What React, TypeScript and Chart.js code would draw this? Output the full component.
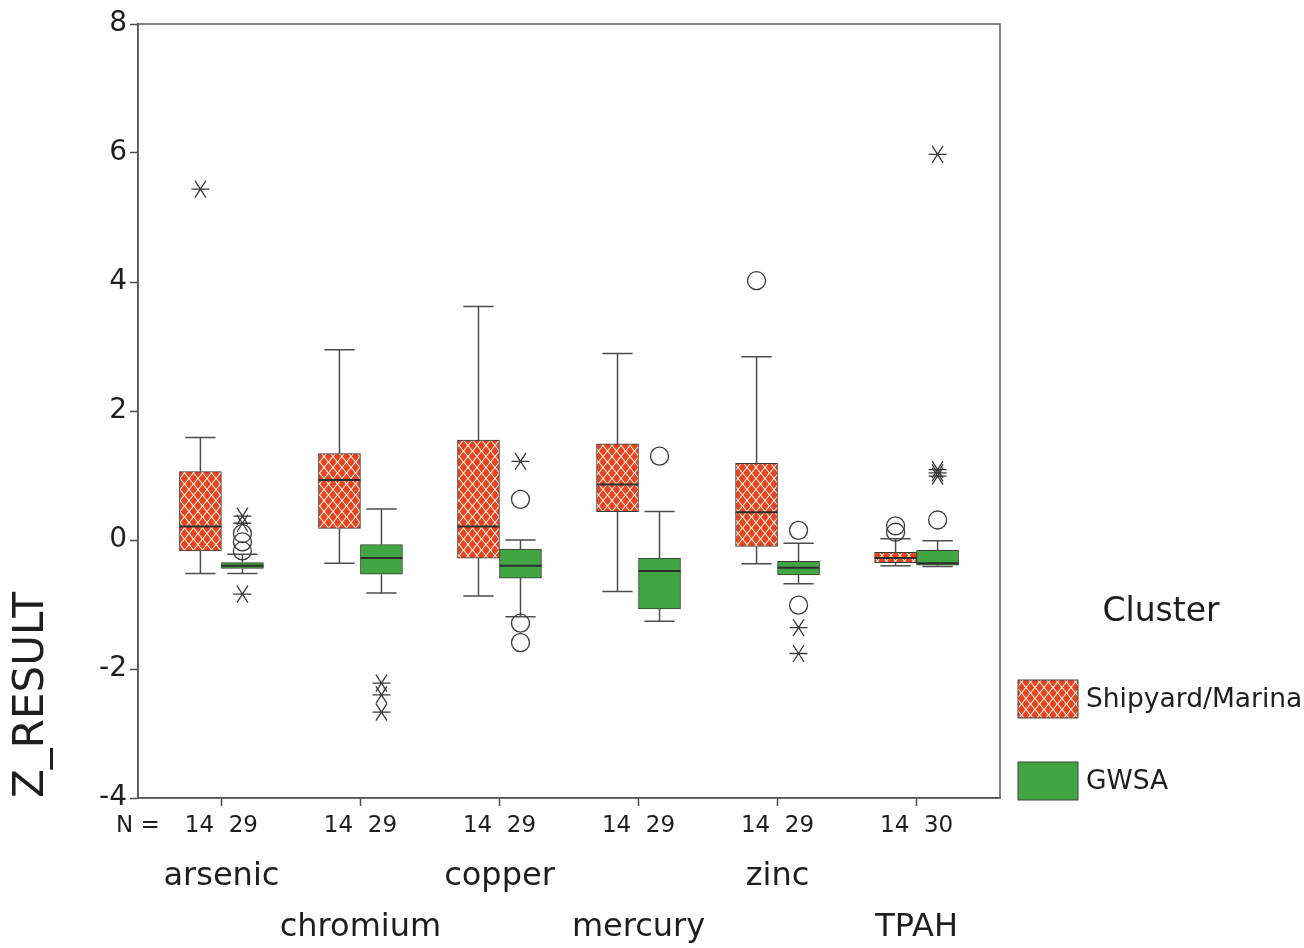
import { useEffect, useRef } from 'react';
import { Chart, registerables } from 'chart.js';

Chart.register(...registerables);

// ---------- data ----------
const categories = ['arsenic', 'chromium', 'copper', 'mercury', 'zinc', 'TPAH'];
const nShipyard = [14, 14, 14, 14, 14, 14];
const nGwsa = [29, 29, 29, 29, 29, 30];
const clusterNames = ['Shipyard/Marina', 'GWSA'];
const yTickValues = [-4, -2, 0, 2, 4, 6, 8];

const shipLow = [-0.52, -0.36, -0.87, -0.8, -0.37, -0.4];
const shipQ1 = [-0.17, 0.18, -0.28, 0.44, -0.1, -0.35];
const shipMedian = [0.21, 0.93, 0.21, 0.86, 0.43, -0.28];
const shipQ3 = [1.06, 1.34, 1.55, 1.49, 1.19, -0.19];
const shipHigh = [1.59, 2.95, 3.62, 2.89, 2.84, 0.02];
const shipCircles = [[], [], [], [], [4.02], [0.22, 0.12]];
const shipStars = [[5.44], [], [], [], [], []];

const gwsaLow = [-0.52, -0.82, -1.19, -1.26, -0.68, -0.41];
const gwsaQ1 = [-0.44, -0.53, -0.59, -1.07, -0.54, -0.39];
const gwsaMedian = [-0.4, -0.28, -0.4, -0.48, -0.43, -0.36];
const gwsaQ3 = [-0.35, -0.07, -0.14, -0.28, -0.33, -0.16];
const gwsaHigh = [-0.22, 0.48, 0.0, 0.44, -0.05, -0.01];
const gwsaCircles = [[0.1, -0.03, -0.17], [], [0.63, -1.29, -1.59], [1.3], [0.15, -1.01], [0.31]];
const gwsaStars = [[0.37, 0.26, -0.84], [-2.22, -2.4, -2.67], [1.22], [], [-1.36, -1.76], [5.98, 1.09, 1.04, 0.99]];

// ---------- styles ----------
const FONT = "'DejaVu Sans', 'Liberation Sans', sans-serif";
const TEXT = '#1e1e1e';
const LINE = '#4d4d4d';
const RED = '#e8431f';
const CREAM = '#fdf5e6';
const GREEN = '#41a541';

function makeLattice(): CanvasPattern | string {
  const c = document.createElement('canvas');
  c.width = 9;
  c.height = 11;
  const g = c.getContext('2d');
  if (!g) return RED;
  g.fillStyle = CREAM;
  g.fillRect(0, 0, 9, 11);
  g.fillStyle = RED;
  const dia = (cx: number, cy: number) => {
    g.beginPath();
    g.moveTo(cx, cy - 4.7);
    g.lineTo(cx + 3.8, cy);
    g.lineTo(cx, cy + 4.7);
    g.lineTo(cx - 3.8, cy);
    g.closePath();
    g.fill();
  };
  dia(4.5, 5.5);
  dia(0, 0);
  dia(9, 0);
  dia(0, 11);
  dia(9, 11);
  const p = g.createPattern(c, 'repeat');
  return p || RED;
}

function drawStar(ctx: CanvasRenderingContext2D, x: number, y: number) {
  ctx.beginPath();
  ctx.moveTo(x - 9, y);
  ctx.lineTo(x + 9, y);
  ctx.moveTo(x - 5.5, y - 8.5);
  ctx.lineTo(x + 5.5, y + 8.5);
  ctx.moveTo(x + 5.5, y - 8.5);
  ctx.lineTo(x - 5.5, y + 8.5);
  ctx.stroke();
}

function makeBoxPlugin(pattern: CanvasPattern | string) {
  return {
    id: 'boxplotParts',
    afterDatasetsDraw(chart: any) {
      const { ctx } = chart;
      const y = chart.scales.y;
      const groups = [
        { low: shipLow, med: shipMedian, high: shipHigh, circles: shipCircles, stars: shipStars },
        { low: gwsaLow, med: gwsaMedian, high: gwsaHigh, circles: gwsaCircles, stars: gwsaStars },
      ];
      ctx.save();
      groups.forEach((g, d) => {
        const meta = chart.getDatasetMeta(d);
        meta.data.forEach((bar: any, i: number) => {
          const x = bar.x;
          const w = bar.width;
          const top = Math.min(bar.y, bar.base);
          const bottom = Math.max(bar.y, bar.base);
          const hi = y.getPixelForValue(g.high[i]);
          const lo = y.getPixelForValue(g.low[i]);
          const cap = w * 0.36;
          ctx.strokeStyle = LINE;
          ctx.lineWidth = 1.5;
          ctx.beginPath();
          ctx.moveTo(x, top);
          ctx.lineTo(x, hi);
          ctx.moveTo(x - cap, hi);
          ctx.lineTo(x + cap, hi);
          ctx.moveTo(x, bottom);
          ctx.lineTo(x, lo);
          ctx.moveTo(x - cap, lo);
          ctx.lineTo(x + cap, lo);
          ctx.stroke();
          const m = y.getPixelForValue(g.med[i]);
          ctx.strokeStyle = '#2d2d2d';
          ctx.lineWidth = 2;
          ctx.beginPath();
          ctx.moveTo(x - w / 2, m);
          ctx.lineTo(x + w / 2, m);
          ctx.stroke();
          ctx.strokeStyle = '#3a3a3a';
          ctx.lineWidth = 1.3;
          g.circles[i].forEach((v: number) => {
            ctx.beginPath();
            ctx.arc(x, y.getPixelForValue(v), 9, 0, Math.PI * 2);
            ctx.stroke();
          });
          g.stars[i].forEach((v: number) => drawStar(ctx, x, y.getPixelForValue(v)));
        });
      });
      ctx.restore();
    },
    afterDraw(chart: any) {
      const { ctx, chartArea } = chart;
      ctx.save();
      // frame
      ctx.strokeStyle = '#5a5a5a';
      ctx.lineWidth = 1.5;
      ctx.strokeRect(chartArea.left, chartArea.top, chartArea.right - chartArea.left, chartArea.bottom - chartArea.top);
      // legend
      const lx = chartArea.right + 18;
      ctx.fillStyle = TEXT;
      ctx.font = `33px ${FONT}`;
      ctx.textAlign = 'center';
      ctx.textBaseline = 'middle';
      ctx.fillText('Cluster', 1161, 612);
      const fills = [pattern, GREEN];
      const rows = [680, 762];
      clusterNames.forEach((name, k) => {
        ctx.fillStyle = fills[k];
        ctx.fillRect(lx, rows[k], 60, 38);
        ctx.strokeStyle = '#444';
        ctx.lineWidth = 1;
        ctx.strokeRect(lx, rows[k], 60, 38);
        ctx.fillStyle = TEXT;
        ctx.font = `26.5px ${FONT}`;
        ctx.textAlign = 'left';
        ctx.fillText(name, lx + 68, rows[k] + 20);
      });
      ctx.restore();
    },
  };
}

export default function App() {
  const ref = useRef<HTMLCanvasElement | null>(null);

  useEffect(() => {
    if (!ref.current) return;
    const pattern = makeLattice();
    const chart = new Chart(ref.current, {
      type: 'bar',
      data: {
        datasets: [
          {
            label: clusterNames[0],
            data: categories.map((_, i) => ({ x: i, y: [shipQ1[i], shipQ3[i]] })) as any,
            backgroundColor: pattern as any,
            borderColor: '#3a3a3a',
            borderWidth: 1,
            borderSkipped: false,
            barThickness: 42,
          },
          {
            label: clusterNames[1],
            data: categories.map((_, i) => ({ x: i, y: [gwsaQ1[i], gwsaQ3[i]] })) as any,
            backgroundColor: GREEN,
            borderColor: '#3a3a3a',
            borderWidth: 1,
            borderSkipped: false,
            barThickness: 42,
          },
        ],
      },
      options: {
        responsive: false,
        animation: false,
        events: [],
        devicePixelRatio: 1,
        layout: { padding: { top: 24, right: 304, bottom: 0, left: 0 } },
        plugins: { legend: { display: false }, tooltip: { enabled: false } },
        scales: {
          x: {
            type: 'linear',
            position: 'bottom',
            offset: false,
            weight: 0,
            min: -0.6,
            max: 5.6,
            afterBuildTicks: (s: any) => {
              s.ticks = [s.min, ...categories.map((_, i) => i)].map((v) => ({ value: v }));
            },
            afterFit: (s: any) => {
              s.height = 42;
            },
            ticks: {
              autoSkip: false,
              maxRotation: 0,
              padding: 6,
              color: TEXT,
              font: { family: FONT, size: 23 },
              callback: (v: any) => (v < 0 ? 'N =' : `${nShipyard[v]}  ${nGwsa[v]}`),
            },
            grid: {
              offset: false,
              drawOnChartArea: false,
              drawTicks: true,
              tickLength: 8,
              tickWidth: 1.5,
              tickColor: (c: any) => (c.tick && c.tick.value < 0 ? 'rgba(0,0,0,0)' : LINE),
            },
            border: { display: true, color: LINE, width: 1.5 },
          },
          x2: {
            type: 'linear',
            position: 'bottom',
            offset: false,
            weight: 1,
            min: -0.6,
            max: 5.6,
            afterBuildTicks: (s: any) => {
              s.ticks = categories.map((_, i) => ({ value: i }));
            },
            afterFit: (s: any) => {
              s.height = 108;
            },
            ticks: {
              autoSkip: false,
              maxRotation: 0,
              padding: 11,
              color: TEXT,
              font: { family: FONT, size: 32, lineHeight: 1.6 },
              callback: (v: any) => (v % 2 === 0 ? [categories[v]] : ['', categories[v]]),
            },
            grid: { display: false, drawTicks: false, offset: false },
            border: { display: false },
          },
          y: {
            type: 'linear',
            min: -4,
            max: 8,
            afterBuildTicks: (s: any) => {
              s.ticks = yTickValues.map((v) => ({ value: v }));
            },
            afterFit: (s: any) => {
              s.width = 138;
            },
            ticks: {
              padding: 3,
              color: TEXT,
              font: { family: FONT, size: 28 },
            },
            grid: {
              drawOnChartArea: false,
              drawTicks: true,
              tickLength: 8,
              tickWidth: 1.5,
              tickColor: LINE,
            },
            border: { display: true, color: LINE, width: 1.5 },
            title: {
              display: true,
              text: 'Z_RESULT',
              align: 'start',
              color: TEXT,
              font: { family: FONT, size: 42 },
              padding: { top: 7, bottom: 0 },
            },
          },
        },
      } as any,
      plugins: [makeBoxPlugin(pattern)],
    });
    return () => chart.destroy();
  }, []);

  return (
    <div style={{ position: 'fixed', left: 0, top: 0, width: 1304, height: 948, background: '#fff' }}>
      <canvas ref={ref} width={1304} height={948} style={{ display: 'block' }} />
    </div>
  );
}
